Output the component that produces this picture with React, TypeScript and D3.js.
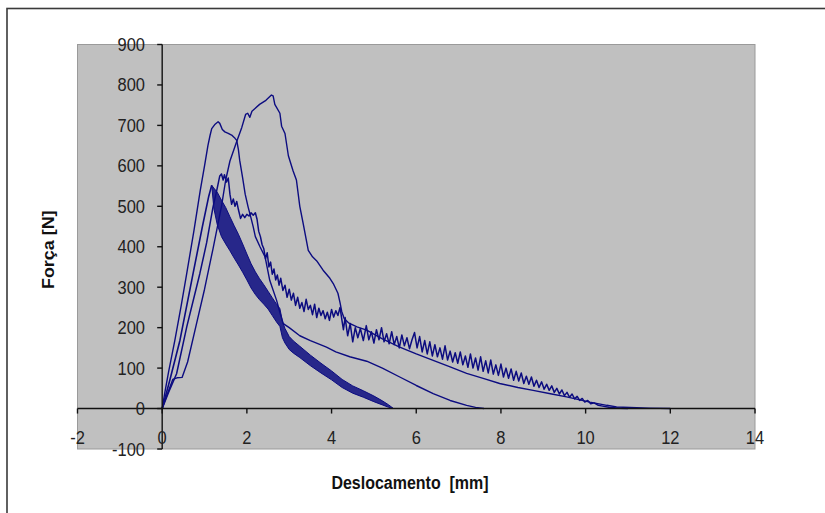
import React from "react";
import * as d3 from "d3";

const xTicks = [-2, 0, 2, 4, 6, 8, 10, 12, 14];
const yTicks = [-100, 0, 100, 200, 300, 400, 500, 600, 700, 800, 900];
const xTitle = "Deslocamento  [mm]";
const yTitle = "Força [N]";

// Curve A (peak ~710) with its long tail to ~7.6 mm
const curveA: [number, number][] = [
  [0, 0], [0.06, 38], [0.15, 90], [0.3, 169], [0.45, 255], [0.58, 334], [0.75, 440],
  [0.9, 540], [1.0, 600], [1.08, 650], [1.13, 675], [1.17, 692], [1.25, 703], [1.32, 709],
  [1.36, 705], [1.42, 690], [1.48, 684], [1.56, 680], [1.64, 676], [1.72, 668], [1.76, 663],
  [1.8, 640], [1.83, 614], [1.9, 570], [1.96, 530], [2.03, 498], [2.1, 470], [2.15, 449],
  [2.2, 425], [2.31, 400], [2.43, 375], [2.54, 317], [2.7, 268], [2.8, 230], [2.86, 210],
  [3.0, 200], [3.25, 180], [3.5, 168], [3.88, 152], [4.1, 140], [4.43, 128], [4.83, 117],
  [5.2, 100], [5.61, 78], [6.0, 57], [6.4, 37], [6.8, 20], [7.19, 8], [7.4, 3], [7.6, 0],
];

// Curve B (peak ~775) with tail to ~12 mm
const curveB: [number, number][] = [
  [0, 0], [0.1, 30], [0.25, 72], [0.35, 76], [0.47, 77], [0.6, 115], [0.8, 205], [1.0, 295],
  [1.2, 395], [1.4, 500], [1.5, 565], [1.6, 612], [1.76, 660], [1.88, 695], [1.97, 727],
  [2.02, 730], [2.07, 720], [2.12, 735], [2.3, 752], [2.45, 762], [2.58, 775], [2.62, 773],
  [2.66, 752], [2.78, 730], [2.82, 698], [2.9, 680], [2.98, 625], [3.09, 588], [3.17, 565],
  [3.25, 500], [3.33, 457], [3.45, 391], [3.55, 375], [3.65, 365], [3.8, 342], [3.96, 322],
  [4.04, 309], [4.15, 285], [4.2, 262], [4.24, 240], [4.3, 222], [4.4, 212], [4.6, 202],
  [4.83, 194], [5.2, 172], [5.61, 152], [6.0, 135], [6.4, 119], [6.8, 103], [7.19, 87],
  [7.6, 74], [7.97, 62], [8.4, 52], [8.76, 45], [9.2, 36], [9.55, 29], [10.1, 16], [10.5, 8],
  [10.73, 4], [11.2, 2], [11.5, 1], [12.0, 0],
];

// Curve C (noisy, peak ~580) with tail to ~11 mm
const curveC: [number, number][] = [
  [0, 0], [0.15, 40], [0.34, 86], [0.58, 202], [0.89, 334], [1.05, 410], [1.2, 498],
  [1.3, 545], [1.36, 575], [1.4, 580], [1.44, 565], [1.47, 578], [1.52, 560], [1.56, 570],
  [1.6, 530], [1.64, 505], [1.68, 518], [1.72, 500], [1.76, 512], [1.8, 492], [1.85, 470],
  [1.9, 480], [1.95, 472], [2.0, 480], [2.05, 476], [2.1, 484], [2.15, 478], [2.2, 484],
  [2.24, 468], [2.28, 438], [2.32, 425], [2.36, 405], [2.4, 395], [2.44, 370], [2.48, 385],
  [2.52, 350], [2.56, 362], [2.6, 332], [2.64, 345], [2.68, 318], [2.72, 330], [2.76, 305],
  [2.8, 322], [2.85, 292], [2.9, 305], [2.95, 275], [3.0, 295], [3.05, 268], [3.1, 285],
  [3.15, 255], [3.2, 275], [3.25, 248], [3.3, 262], [3.35, 240], [3.4, 270], [3.45, 245],
  [3.5, 255], [3.55, 232], [3.6, 258], [3.65, 225], [3.7, 248], [3.75, 230], [3.8, 242],
  [3.85, 222], [3.9, 238], [3.95, 218], [4.0, 245], [4.05, 226], [4.1, 242], [4.15, 230],
  [4.2, 250], [4.25, 215], [4.28, 195], [4.32, 225], [4.38, 180], [4.44, 210], [4.5, 165],
  [4.56, 200], [4.62, 175], [4.68, 198], [4.75, 168], [4.82, 205], [4.88, 170], [4.94, 190],
  [5.0, 162], [5.06, 195], [5.12, 170], [5.18, 200], [5.24, 165], [5.3, 185], [5.36, 160],
  [5.42, 190], [5.48, 158], [5.54, 178], [5.6, 150], [5.66, 182], [5.72, 155], [5.78, 175],
  [5.84, 148], [5.9, 170], [5.96, 188], [6.02, 150], [6.08, 178], [6.14, 140], [6.2, 168],
  [6.26, 135], [6.32, 165], [6.38, 130], [6.44, 158], [6.5, 128], [6.56, 150], [6.62, 122],
  [6.68, 155], [6.74, 120], [6.8, 142], [6.86, 115], [6.92, 138], [6.98, 112], [7.04, 140],
  [7.1, 108], [7.16, 130], [7.22, 102], [7.28, 135], [7.34, 100], [7.4, 125], [7.46, 95],
  [7.52, 128], [7.58, 92], [7.64, 118], [7.7, 88], [7.76, 120], [7.82, 85], [7.88, 108],
  [7.94, 82], [8.0, 110], [8.06, 78], [8.12, 100], [8.18, 75], [8.24, 98], [8.3, 70],
  [8.36, 92], [8.42, 68], [8.48, 88], [8.54, 62], [8.6, 80], [8.66, 60], [8.72, 78],
  [8.78, 55], [8.84, 70], [8.9, 52], [8.96, 66], [9.02, 48], [9.08, 60], [9.14, 45],
  [9.2, 56], [9.26, 40], [9.32, 50], [9.38, 36], [9.44, 46], [9.5, 32], [9.56, 40],
  [9.62, 28], [9.68, 36], [9.74, 24], [9.8, 30], [9.86, 20], [9.92, 25], [9.98, 16],
  [10.05, 20], [10.12, 12], [10.2, 14], [10.3, 8], [10.4, 6], [10.55, 3], [10.8, 1], [11.0, 0],
];

// Curve E: rising line, then a dense noisy band (upper/lower envelopes)
const curveERise: [number, number][] = [
  [0, 0], [0.18, 70], [0.42, 169], [0.73, 334], [0.95, 450], [1.1, 525], [1.17, 552],
];
const eBandX = [1.17, 1.22, 1.3, 1.4, 1.5, 1.6, 1.7, 1.8, 1.9, 2.0, 2.1, 2.2, 2.3, 2.4, 2.5, 2.6, 2.7, 2.78, 2.84, 2.9, 3.0, 3.1, 3.25, 3.5, 3.75, 4.0, 4.25, 4.5, 4.75, 5.0, 5.2, 5.35, 5.45];
const eBandUpper = [552, 545, 535, 515, 497, 474, 452, 431, 407, 382, 358, 338, 321, 306, 290, 274, 258, 247, 215, 198, 178, 167, 154, 132, 112, 93, 72, 56, 44, 31, 19, 9, 1];
const eBandLower = [552, 495, 455, 425, 407, 390, 372, 355, 337, 318, 298, 282, 269, 258, 246, 230, 214, 203, 175, 162, 146, 137, 126, 106, 88, 71, 52, 38, 28, 17, 9, 3, 1];

const W = 825;
const H = 513;
const plot = { left: 77.5, right: 755, top: 44.5, bottom: 449 };
const NAVY = "#0c0c80";
const FONT = "'Liberation Sans', Arial, sans-serif";
const STRETCH = 1.12;

export default function App() {
  const x = d3.scaleLinear().domain([-2, 14]).range([plot.left, plot.right]);
  const y = d3.scaleLinear().domain([-100, 900]).range([plot.bottom, plot.top]);
  const line = d3
    .line<[number, number]>()
    .x((d) => x(d[0]))
    .y((d) => y(d[1]));
  const band = d3
    .area<number>()
    .x((d) => x(d))
    .y0((_, i) => y(eBandLower[i]))
    .y1((_, i) => y(eBandUpper[i]));

  const x0 = x(0);
  const y0 = y(0);

  return (
    <svg
      width={W}
      height={H}
      style={{ position: "absolute", left: 0, top: 0, background: "#fff" }}
      fontFamily={FONT}
    >
      <rect x={7} y={8.5} width={840} height={540} fill="#fff" stroke="#3a3a3a" strokeWidth={1.6} />
      <rect
        x={plot.left}
        y={plot.top}
        width={plot.right - plot.left}
        height={plot.bottom - plot.top}
        fill="#c0c0c0"
        stroke="#9a9a9a"
        strokeWidth={1}
      />
      <g fill="none" stroke={NAVY} strokeLinejoin="round">
        <path d={line(curveA) || ""} strokeWidth={1.4} />
        <path d={line(curveB) || ""} strokeWidth={1.4} />
        <path d={line(curveC) || ""} strokeWidth={1.5} />
        <path d={line(curveERise) || ""} strokeWidth={1.6} />
      </g>
      <path d={band(eBandX) || ""} fill={NAVY} fillOpacity={0.85} stroke={NAVY} strokeWidth={1} />
      {/* axes */}
      <g stroke="#111" strokeWidth={1.4}>
        <line x1={plot.left} x2={plot.right} y1={y0} y2={y0} />
        <line x1={x0} x2={x0} y1={plot.top} y2={plot.bottom} />
        {xTicks.map((t) => (
          <line key={"xt" + t} x1={x(t)} x2={x(t)} y1={y0} y2={y0 + 5} />
        ))}
        {yTicks.map((t) => (
          <line key={"yt" + t} x1={x0 - 5} x2={x0} y1={y(t)} y2={y(t)} />
        ))}
      </g>
      <g fontSize={16.5} fill="#222">
        {xTicks.map((t) => (
          <text
            key={"xl" + t}
            transform={`translate(${x(t)}, 444) scale(1, ${STRETCH})`}
            textAnchor="middle"
          >
            {t}
          </text>
        ))}
        {yTicks.map((t) => (
          <text
            key={"yl" + t}
            transform={`translate(145, ${y(t) + 6.5}) scale(1, ${STRETCH})`}
            textAnchor="end"
          >
            {t}
          </text>
        ))}
      </g>
      <text
        transform={`translate(410, 489) scale(1, ${STRETCH})`}
        textAnchor="middle"
        fontSize={16}
        fontWeight="bold"
        fill="#111"
        style={{ whiteSpace: "pre" }}
      >
        {xTitle}
      </text>
      <text
        transform={`translate(54, ${(plot.top + plot.bottom) / 2 + 3}) rotate(-90) scale(${STRETCH}, 1)`}
        textAnchor="middle"
        fontSize={16}
        fontWeight="bold"
        fill="#111"
      >
        {yTitle}
      </text>
    </svg>
  );
}
